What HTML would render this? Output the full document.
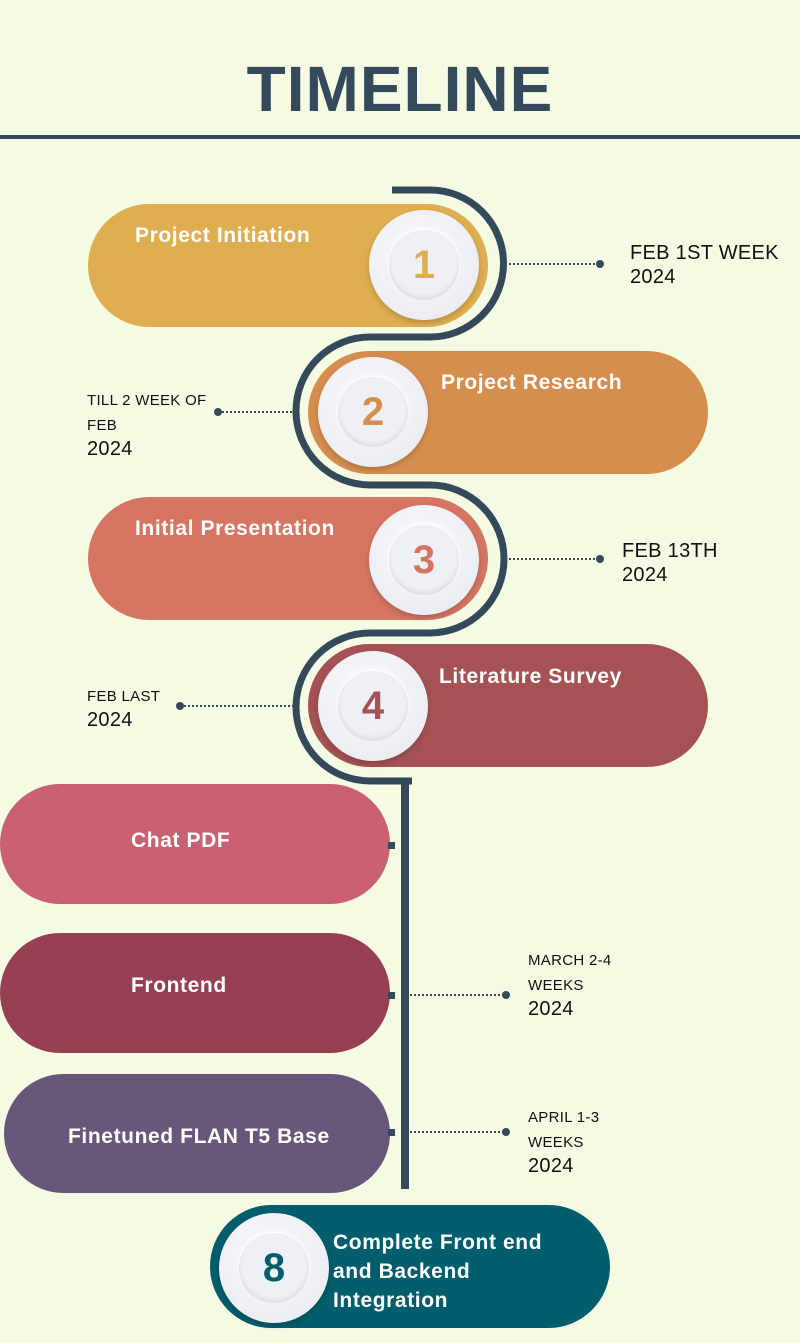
<!DOCTYPE html>
<html><head><meta charset="utf-8"><style>
body{margin:0;width:800px;height:1343px;background:#f5fae3;position:relative;overflow:hidden;font-family:"Liberation Sans",sans-serif}
.a{position:absolute}
.pill{position:absolute;border-radius:62px}
.lab{position:absolute;color:#fff;font-weight:bold;font-size:21px;letter-spacing:0.6px;white-space:nowrap}
.dt{position:absolute;color:#111;font-size:20px;line-height:24px;letter-spacing:0.3px}
.sm{font-size:15px;line-height:22px}
.circ{position:absolute;border-radius:50%;background:radial-gradient(circle at 45% 40%,#fafbfd,#e6e8ef);box-shadow:0 3px 6px rgba(0,0,0,.18)}
.inner{position:absolute;left:20px;top:20px;width:70px;height:70px;border-radius:50%;background:#eef0f5;box-shadow:inset 0 -3px 5px rgba(0,0,0,.08),0 -2px 4px rgba(255,255,255,.9);text-align:center;line-height:70px;font-weight:bold;font-size:40px}
</style></head><body>
<div class="a" style="left:0;width:800px;top:52px;text-align:center;font-size:64px;font-weight:bold;color:#34495a;letter-spacing:1px">TIMELINE</div>
<div class="a" style="left:0;width:800px;top:135px;height:4px;background:#34495a"></div>

<div class="pill" style="left:88px;top:204px;width:400px;height:123px;background:#dfae50"></div>
<div class="pill" style="left:308px;top:351px;width:400px;height:123px;background:#d68e4f"></div>
<div class="pill" style="left:88px;top:497px;width:400px;height:123px;background:#d77563"></div>
<div class="pill" style="left:308px;top:644px;width:400px;height:123px;background:#a65254"></div>
<div class="pill" style="left:0;top:784px;width:390px;height:120px;border-radius:60px;background:#c96171"></div>
<div class="pill" style="left:0;top:933px;width:390px;height:120px;border-radius:60px;background:#973f53"></div>
<div class="pill" style="left:4px;top:1074px;width:386px;height:119px;border-radius:60px;background:#67577a"></div>
<div class="pill" style="left:210px;top:1205px;width:400px;height:123px;background:#025e6c"></div>

<svg class="a" style="left:0;top:0" width="800" height="1343">
<path d="M392 190 H430 A73.5 73.5 0 0 1 430 337 H370 A74 74 0 0 0 370 485 H430 A74 74 0 0 1 430 633 H370 A74 74 0 0 0 370 781 H412" fill="none" stroke="#34495a" stroke-width="7"/>
<line x1="405" y1="778" x2="405" y2="1189" stroke="#34495a" stroke-width="8"/>
<rect x="388" y="842" width="7" height="7" fill="#34495a"/>
<rect x="388" y="992" width="7" height="7" fill="#34495a"/>
<rect x="388" y="1129" width="7" height="7" fill="#34495a"/>
<g stroke="#34495a" stroke-width="2" stroke-dasharray="2 2">
<line x1="505" y1="264" x2="600" y2="264"/><line x1="218" y1="412" x2="295" y2="412"/>
<line x1="505" y1="559" x2="600" y2="559"/><line x1="180" y1="706" x2="295" y2="706"/>
<line x1="410" y1="995" x2="506" y2="995"/><line x1="410" y1="1132" x2="506" y2="1132"/>
</g>
<g fill="#34495a"><circle cx="600" cy="264" r="4"/><circle cx="218" cy="412" r="4"/><circle cx="600" cy="559" r="4"/><circle cx="180" cy="706" r="4"/><circle cx="506" cy="995" r="4"/><circle cx="506" cy="1132" r="4"/></g>
</svg>

<div class="circ" style="left:369px;top:210px;width:110px;height:110px"><div class="inner" style="color:#dfae50">1</div></div>
<div class="circ" style="left:318px;top:357px;width:110px;height:110px"><div class="inner" style="color:#d68e4f">2</div></div>
<div class="circ" style="left:369px;top:505px;width:110px;height:110px"><div class="inner" style="color:#d77563">3</div></div>
<div class="circ" style="left:318px;top:651px;width:110px;height:110px"><div class="inner" style="color:#a65254">4</div></div>
<div class="circ" style="left:219px;top:1213px;width:110px;height:110px"><div class="inner" style="color:#025e6c">8</div></div>

<div class="lab" style="left:135px;top:224px">Project Initiation</div>
<div class="lab" style="left:441px;top:371px">Project Research</div>
<div class="lab" style="left:135px;top:517px">Initial Presentation</div>
<div class="lab" style="left:439px;top:665px">Literature Survey</div>
<div class="lab" style="left:131px;top:829px">Chat PDF</div>
<div class="lab" style="left:131px;top:974px">Frontend</div>
<div class="lab" style="left:68px;top:1125px">Finetuned FLAN T5 Base</div>
<div class="lab" style="left:333px;top:1228px;line-height:29px;white-space:normal;width:228px">Complete Front end and Backend Integration</div>

<div class="dt" style="left:630px;top:241px">FEB 1ST WEEK<br>2024</div>
<div class="dt" style="left:87px;top:387px"><span class="sm">TILL 2 WEEK OF<br>FEB</span><br>2024</div>
<div class="dt" style="left:622px;top:539px">FEB 13TH<br>2024</div>
<div class="dt" style="left:87px;top:683px"><span class="sm">FEB LAST</span><br>2024</div>
<div class="dt" style="left:528px;top:947px"><span class="sm">MARCH 2-4<br>WEEKS</span><br>2024</div>
<div class="dt" style="left:528px;top:1104px"><span class="sm">APRIL 1-3<br>WEEKS</span><br>2024</div>
</body></html>
